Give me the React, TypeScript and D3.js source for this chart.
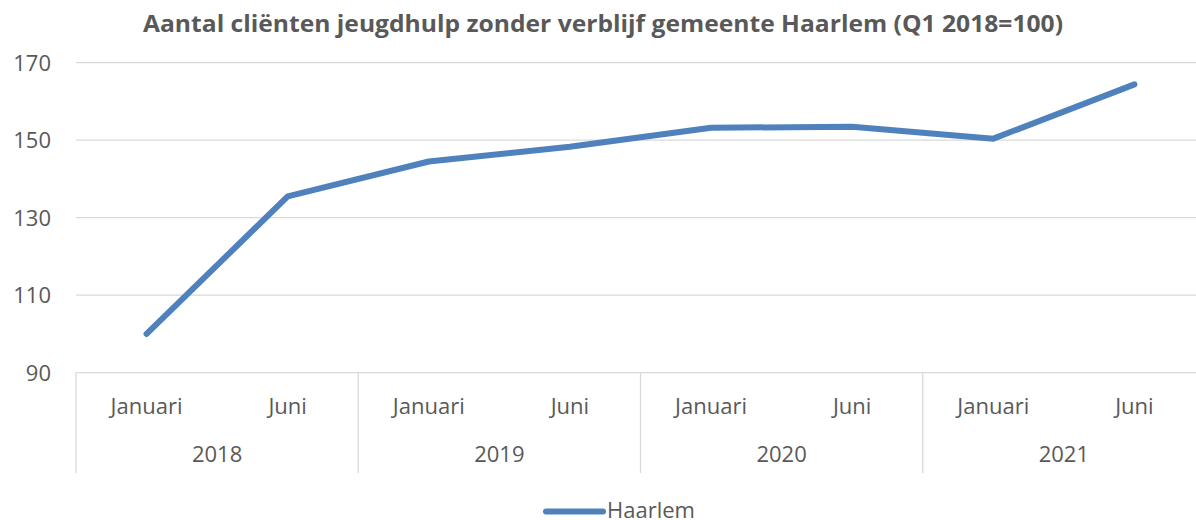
import React from 'react';
import * as d3 from 'd3';

const years = ['2018', '2019', '2020', '2021'];
const months = ['Januari', 'Juni'];
const periods = ['2018-Januari', '2018-Juni', '2019-Januari', '2019-Juni', '2020-Januari', '2020-Juni', '2021-Januari', '2021-Juni'];
const haarlem = [100, 135.5, 144.5, 148.3, 153.2, 153.5, 150.4, 164.4];
const yTicks = [90, 110, 130, 150, 170];

const W = 1196;
const H = 520;
const font = "'Open Sans', sans-serif";
const textColor = '#595959';
const gridColor = '#d9d9d9';
const lineColor = '#4f81bd';

export default function App() {
  const left = 76;
  const right = 1205; // plot runs past the picture edge, like the original
  const top = 62.7;
  const bottom = 372.7;

  const x = d3.scaleBand().domain(periods).range([left, right]);
  const xYear = d3.scaleBand().domain(years).range([left, right]);
  const y = d3.scaleLinear().domain([90, 170]).range([bottom, top]);

  const line = d3.line<number>()
    .x((_, i) => x(periods[i])! + x.bandwidth() / 2)
    .y(d => y(d));

  return (
    <div style={{ position: 'absolute', left: 0, top: 0 }}>
      <svg width={W} height={H} style={{ display: 'block', background: '#fff' }}>
        <text x={603} y={32} textAnchor="middle" fontFamily={font} fontWeight="bold" fontSize={23.5}
          textLength={920} lengthAdjust="spacingAndGlyphs" fill={textColor}>
          Aantal cliënten jeugdhulp zonder verblijf gemeente Haarlem (Q1 2018=100)
        </text>

        {yTicks.map(t => (
          <g key={t}>
            {t !== 90 && <line x1={left} x2={right} y1={y(t)} y2={y(t)} stroke={gridColor} strokeWidth={1.3} />}
            <text x={51} y={y(t) + 8} textAnchor="end" fontFamily={font} fontSize={22} fill={textColor}>{t}</text>
          </g>
        ))}

        {/* category axis */}
        <line x1={left} x2={right} y1={bottom} y2={bottom} stroke={gridColor} strokeWidth={1.3} />
        {years.map(yr => (
          <g key={yr}>
            <line x1={xYear(yr)!} x2={xYear(yr)!} y1={bottom} y2={473} stroke={gridColor} strokeWidth={1.3} />
            <text x={xYear(yr)! + xYear.bandwidth() / 2} y={462} textAnchor="middle" fontFamily={font} fontSize={22} fill={textColor}>{yr}</text>
          </g>
        ))}
        {periods.map((p, i) => (
          <text key={p} x={x(p)! + x.bandwidth() / 2} y={414} textAnchor="middle" fontFamily={font} fontSize={22} fill={textColor}>
            {months[i % 2]}
          </text>
        ))}

        <path d={line(haarlem)!} fill="none" stroke={lineColor} strokeWidth={6} strokeLinejoin="round" strokeLinecap="round" />

        {/* legend */}
        <line x1={546} x2={603} y1={511.5} y2={511.5} stroke={lineColor} strokeWidth={6} strokeLinecap="round" />
        <text x={607} y={518} fontFamily={font} fontSize={22} fill={textColor}>Haarlem</text>
      </svg>
    </div>
  );
}
